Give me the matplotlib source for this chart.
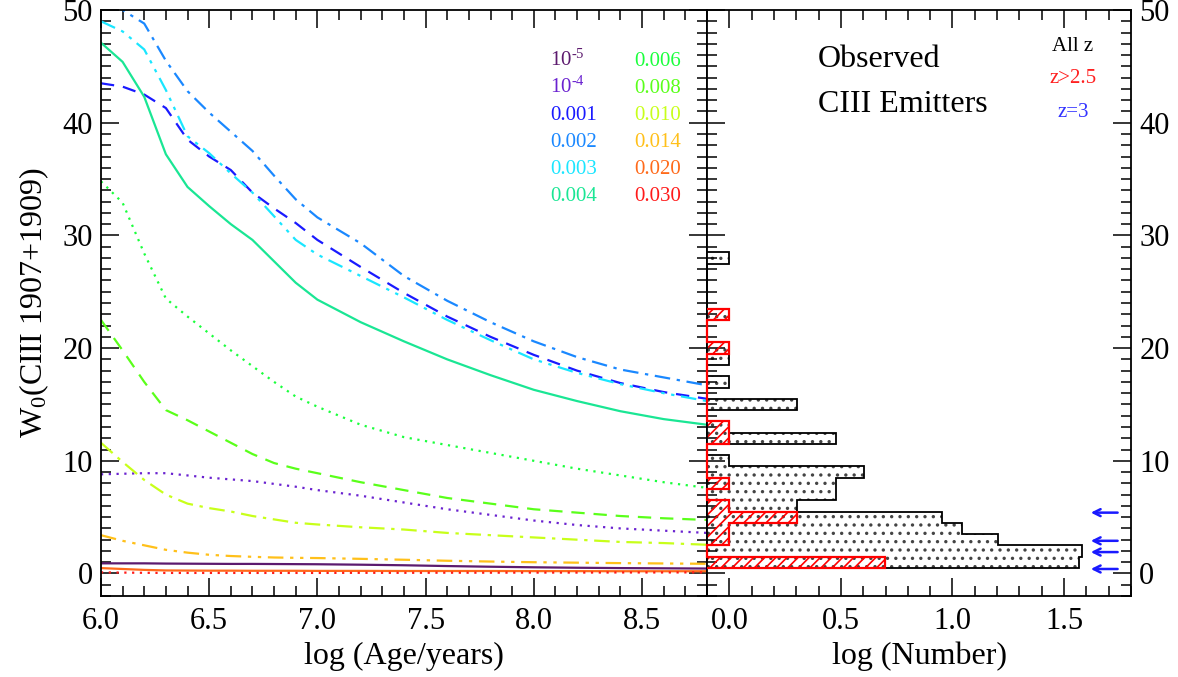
import numpy as np
import matplotlib
matplotlib.use('Agg')
import matplotlib.pyplot as plt
from matplotlib.ticker import MultipleLocator, FormatStrFormatter

plt.rcParams['font.family'] = 'serif'
plt.rcParams['font.serif'] = ['Liberation Serif', 'DejaVu Serif']
plt.rcParams['mathtext.fontset'] = 'custom'
plt.rcParams['mathtext.rm'] = 'Liberation Serif'
plt.rcParams['mathtext.it'] = 'Liberation Serif:italic'
plt.rcParams['hatch.linewidth'] = 1.2

# model grid: log(age) vs W0 for each metallicity
log_age = [6.0, 6.1, 6.2, 6.3, 6.4, 6.5, 6.6, 6.7, 6.8, 6.9,
           7.0, 7.2, 7.4, 7.6, 7.8, 8.0, 8.2, 8.4, 8.6, 8.8]

w_1e5 = [0.9, 0.9, 0.9, 0.88, 0.87, 0.86, 0.85, 0.85, 0.84, 0.83,
         0.82, 0.78, 0.73, 0.66, 0.6, 0.55, 0.51, 0.48, 0.46, 0.44]
w_1e4 = [8.8, 8.85, 8.9, 8.9, 8.7, 8.5, 8.35, 8.2, 7.95, 7.7,
         7.4, 6.9, 6.3, 5.7, 5.2, 4.7, 4.3, 4.0, 3.8, 3.6]
w_001 = [43.5, 43.2, 42.5, 41.3, 38.5, 37.0, 35.8, 33.8, 32.4, 31.1,
         29.6, 27.2, 24.9, 22.8, 21.0, 19.4, 18.0, 16.9, 16.1, 15.5]
w_002 = [53.0, 50.0, 48.8, 45.5, 42.8, 40.9, 39.2, 37.5, 35.3, 33.2,
         31.6, 29.3, 26.4, 24.2, 22.3, 20.6, 19.2, 18.1, 17.4, 16.7]
w_003 = [49.0, 48.1, 46.5, 42.9, 38.8, 37.3, 35.5, 33.8, 31.7, 29.6,
         28.3, 26.4, 24.5, 22.5, 20.7, 19.0, 17.8, 16.8, 16.0, 15.3]
w_004 = [47.1, 45.4, 42.3, 37.2, 34.3, 32.6, 31.0, 29.6, 27.7, 25.8,
         24.3, 22.3, 20.6, 19.0, 17.6, 16.3, 15.3, 14.4, 13.7, 13.2]
w_006 = [34.8, 32.9, 28.4, 24.4, 22.8, 21.3, 19.8, 18.4, 17.0, 15.7,
         14.8, 13.2, 12.1, 11.4, 10.7, 10.0, 9.3, 8.7, 8.1, 7.6]
w_008 = [22.5, 19.8, 17.0, 14.5, 13.6, 12.6, 11.6, 10.6, 9.8, 9.3,
         8.9, 8.1, 7.4, 6.7, 6.2, 5.7, 5.4, 5.1, 4.9, 4.75]
w_010 = [11.6, 9.9, 8.3, 7.0, 6.2, 5.8, 5.5, 5.1, 4.8, 4.5,
         4.35, 4.1, 3.9, 3.6, 3.4, 3.2, 3.0, 2.8, 2.7, 2.55]
w_014 = [3.4, 2.9, 2.5, 2.1, 1.85, 1.66, 1.55, 1.48, 1.42, 1.39,
         1.37, 1.3, 1.22, 1.13, 1.06, 1.0, 0.96, 0.92, 0.89, 0.86]
w_020 = [0.48, 0.40, 0.32, 0.27, 0.26, 0.25, 0.25, 0.24, 0.24, 0.24,
         0.23, 0.23, 0.22, 0.22, 0.22, 0.21, 0.21, 0.2, 0.2, 0.2]
w_030 = [0.1, 0.08, 0.06, 0.05, 0.05, 0.05, 0.05, 0.05, 0.05, 0.05,
         0.05, 0.06, 0.06, 0.07, 0.07, 0.08, 0.08, 0.09, 0.09, 0.1]

z_labels = ['10$^{\\text{-5}}$', '10$^{\\text{-4}}$', '0.001', '0.002', '0.003', '0.004',
            '0.006', '0.008', '0.010', '0.014', '0.020', '0.030']
models = [w_1e5, w_1e4, w_001, w_002, w_003, w_004,
          w_006, w_008, w_010, w_014, w_020, w_030]

colors = ['#5c1a6e', '#6a22d0', '#1a1aff', '#1a88ff', '#1ae6ff', '#1ae694',
          '#1aff3c', '#5aff1a', '#c8ff1a', '#ffc01a', '#ff6a1a', '#ff1a1a']
dashdotdot = (0, (7, 3, 1.5, 3, 1.5, 3))
styles = ['-', (0, (1, 2.5)), (0, (6, 4)), (0, (7, 3, 1.5, 3)), dashdotdot, '-',
          (0, (1, 2.5)), (0, (6, 4)), (0, (7, 3, 1.5, 3)), dashdotdot, '-', (0, (1, 2.5))]

# observed histogram, W0 bins centred on 1..28
w_bins = np.arange(1, 29)
n_all = [37, 38, 16, 11, 9, 2, 3, 3, 4, 1, 0, 3, 1, 0, 2, 0, 1, 0, 1, 1, 0, 0, 1, 0, 0, 0, 0, 1]
n_hiz = [5, 0, 1, 1, 2, 1, 0, 1, 0, 0, 0, 1, 1, 0, 0, 0, 0, 0, 0, 1, 0, 0, 1, 0, 0, 0, 0, 0]
w_z3 = [5.4, 2.9, 1.9, 0.4]

fig = plt.figure(figsize=(11.78, 6.77), dpi=100)
ax1 = fig.add_axes([0.0857, 0.1196, 0.5144, 0.8656])
ax2 = fig.add_axes([0.6002, 0.1196, 0.3599, 0.8656])

for w, c, ls in zip(models, colors, styles):
    ax1.plot(log_age, w, color=c, ls=ls, lw=1.6)

ax1.set_xlim(6.0, 8.8)
ax1.set_ylim(-2, 50)
ax1.xaxis.set_major_locator(MultipleLocator(0.5))
ax1.xaxis.set_minor_locator(MultipleLocator(0.1))
ax1.yaxis.set_major_locator(MultipleLocator(10))
ax1.yaxis.set_minor_locator(MultipleLocator(1))
ax1.xaxis.set_major_formatter(FormatStrFormatter('%.1f'))
ax1.set_xlabel('log (Age/years)', fontsize=23, labelpad=4)
ax1.set_ylabel('W$_0$(CIII 1907+1909)', fontsize=23, labelpad=8)

col_x = [0.741, 0.880]
row_y = [0.9044, 0.8584, 0.8123, 0.7662, 0.7201, 0.6741]
for i, (lab, c) in enumerate(zip(z_labels, colors)):
    ax1.text(col_x[i // 6], row_y[i % 6], lab, color=c, fontsize=15,
             transform=ax1.transAxes, ha='left', va='baseline')

# histogram
xmin = -0.1
n_all = np.array(n_all)
n_hiz = np.array(n_hiz)
lg_all = np.where(n_all > 0, np.log10(np.maximum(n_all, 1)), xmin)
lg_hiz = np.where(n_hiz > 0, np.log10(np.maximum(n_hiz, 1)), xmin)

m = n_all > 0
ax2.barh(w_bins[m], lg_all[m] - xmin, left=xmin, height=1, facecolor='white',
         edgecolor='#444444', linewidth=0, hatch='..', zorder=1)
m = n_hiz > 0
ax2.barh(w_bins[m], lg_hiz[m] - xmin, left=xmin, height=1, facecolor='none',
         edgecolor='red', linewidth=0, hatch='///', zorder=2)

top_all = np.nonzero(n_all)[0].max() + 1
top_hiz = np.nonzero(n_hiz)[0].max() + 1
edges_all = np.arange(0.5, top_all + 1)
edges_hiz = np.arange(0.5, top_hiz + 1)
ax2.stairs(lg_all[:top_all], edges_all, orientation='horizontal', baseline=xmin,
           color='black', lw=1.3, zorder=3, clip_on=False)
ax2.stairs(lg_hiz[:top_hiz], edges_hiz, orientation='horizontal', baseline=xmin,
           color='red', lw=1.6, zorder=4, clip_on=False)

for w in w_z3:
    ax2.annotate('', xy=(1.62, w), xytext=(1.74, w),
                 arrowprops=dict(arrowstyle='->,head_length=0.5,head_width=0.25',
                                 color='#1a1aff', lw=1.8, shrinkA=0, shrinkB=0))

ax2.set_xlim(xmin, 1.8)
ax2.set_ylim(-2, 50)
ax2.xaxis.set_major_locator(MultipleLocator(0.5))
ax2.xaxis.set_minor_locator(MultipleLocator(0.1))
ax2.yaxis.set_major_locator(MultipleLocator(10))
ax2.yaxis.set_minor_locator(MultipleLocator(1))
ax2.xaxis.set_major_formatter(FormatStrFormatter('%.1f'))
ax2.set_xlabel('log (Number)', fontsize=23, labelpad=4)

ax2.text(0.262, 0.903, 'Observed', fontsize=23, transform=ax2.transAxes, va='baseline')
ax2.text(0.262, 0.826, 'CIII Emitters', fontsize=23, transform=ax2.transAxes, va='baseline')
ax2.text(0.863, 0.9305, 'All z', fontsize=15, color='black', ha='center',
         transform=ax2.transAxes, va='baseline')
ax2.text(0.863, 0.8754, 'z>2.5', fontsize=15, color='#ff2020', ha='center',
         transform=ax2.transAxes, va='baseline')
ax2.text(0.863, 0.818, 'z=3', fontsize=15, color='#3333ff', ha='center',
         transform=ax2.transAxes, va='baseline')

for ax in (ax1, ax2):
    ax.tick_params(which='both', direction='in', top=True, right=True, left=True,
                   labelsize=22, width=1.1)
    ax.tick_params(which='major', length=13)
    ax.tick_params(which='minor', length=7)
    ax.tick_params(axis='x', pad=8)
    ax.tick_params(axis='y', pad=6)
    for s in ax.spines.values():
        s.set_linewidth(1.3)
ax2.tick_params(labelleft=False, labelright=True)

fig.savefig('out.png', dpi=100)
